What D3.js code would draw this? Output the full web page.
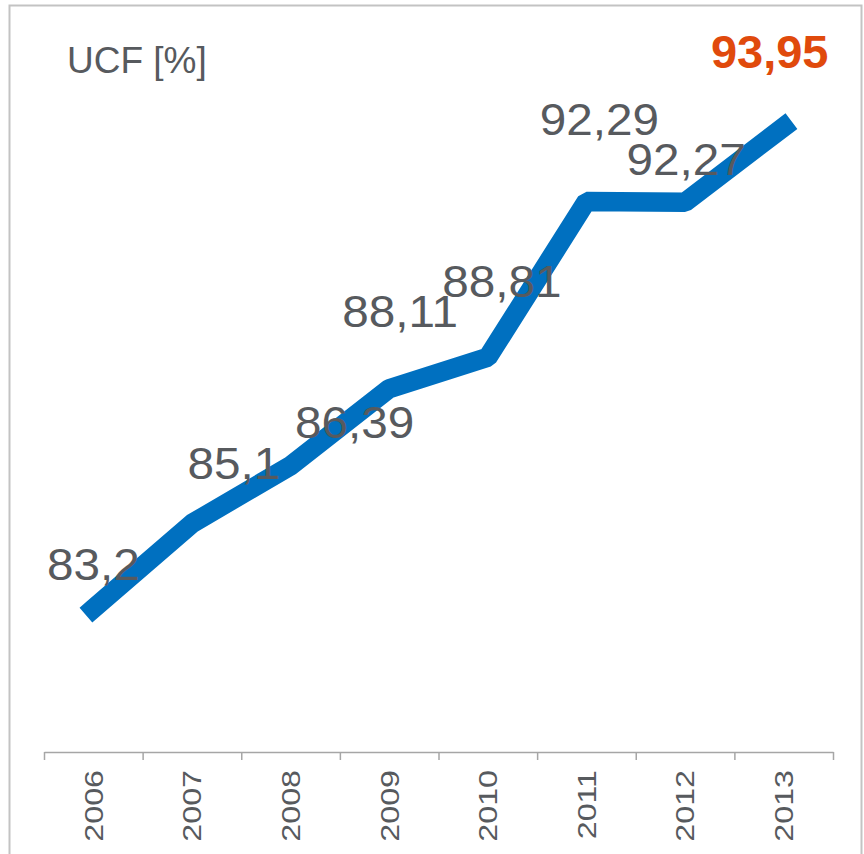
<!DOCTYPE html>
<html>
<head>
<meta charset="utf-8">
<script src="https://cdn.jsdelivr.net/npm/d3@7"></script>
<style>
  html, body { margin: 0; padding: 0; background: #ffffff; }
  svg { display: block; }
  text { font-family: "Liberation Sans", Arial, sans-serif; }
</style>
</head>
<body>
<svg id="chart" width="864" height="854"></svg>
<script>
// ---- data ----
const years = ["2006", "2007", "2008", "2009", "2010", "2011", "2012", "2013"];
const ucf = [83.2, 85.1, 86.39, 88.11, 88.81, 92.29, 92.27, 93.95];
const valueLabels = ["83,2", "85,1", "86,39", "88,11", "88,81", "92,29", "92,27", "93,95"];
const title = "UCF [%]";
const yDomain = [80, 95];

// label placement (manual offsets in px from each point)
const labelDx = [0, 42, 64, 11, 14, 13, 1, -14];
const labelDy = [-29, -45, -28, -62, -60, -66, -27, -59];

const svg = d3.select("#chart");

// frame
svg.append("rect")
  .attr("x", 9.5).attr("y", 5.5)
  .attr("width", 852).attr("height", 900)
  .attr("fill", "none")
  .attr("stroke", "#c3c3c3")
  .attr("stroke-width", 2);

const x = d3.scaleBand().domain(years).range([44, 833]).padding(0);
const y = d3.scaleLinear().domain(yDomain).range([752, 80]);
const cx = d => x(d) + x.bandwidth() / 2;

// axis with tick marks at band edges
const edge = d3.scaleLinear().domain([0, years.length]).range([44, 833]);
const axisG = svg.append("g")
  .attr("transform", "translate(0,752)")
  .call(d3.axisBottom(edge).tickValues(d3.range(years.length + 1))
    .tickSize(8).tickSizeOuter(0).tickFormat(""));
axisG.select(".domain").attr("stroke", "#a6a6a6").attr("stroke-width", 1.5);
axisG.selectAll(".tick line").attr("stroke", "#a6a6a6").attr("stroke-width", 1.5);

// year labels rotated
svg.append("g").selectAll("text")
  .data(years)
  .join("text")
  .attr("transform", d => `translate(${cx(d)},770) rotate(-90) scale(1.24,1)`)
  .attr("text-anchor", "end")
  .attr("dy", "0.36em")
  .attr("font-size", 26)
  .attr("fill", "#575a5e")
  .text(d => d);

// line
const pts = years.map((yr, i) => [cx(yr), y(ucf[i])]);
svg.append("path")
  .attr("d", d3.line()(pts))
  .attr("fill", "none")
  .attr("stroke", "#0070c0")
  .attr("stroke-width", 19.5)
  .attr("stroke-linecap", "square")
  .attr("stroke-linejoin", "bevel");

// data labels
const last = years.length - 1;
svg.append("g").selectAll("text")
  .data(years)
  .join("text")
  .attr("transform", (d, i) => `translate(${cx(d) + labelDx[i]},${y(ucf[i]) + labelDy[i]}) scale(${i === last ? 1.0 : 1.06},1)`)
  .attr("text-anchor", "middle")
  .attr("font-weight", (d, i) => i === last ? "bold" : "normal")
  .attr("font-size", (d, i) => i === last ? 47 : 45)
  .attr("fill", (d, i) => i === last ? "#e04a0c" : "#575a5e")
  .text((d, i) => valueLabels[i]);

// title
svg.append("text")
  .attr("x", 67).attr("y", 73)
  .attr("font-size", 37)
  .attr("fill", "#575a5e")
  .text(title);
</script>
</body>
</html>
